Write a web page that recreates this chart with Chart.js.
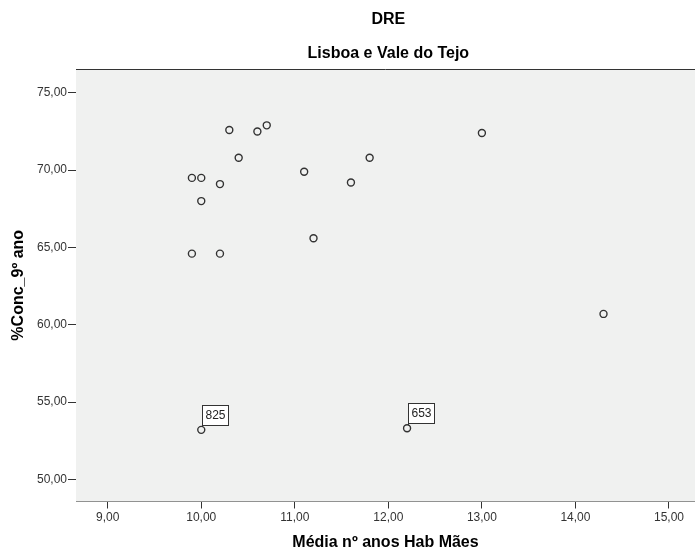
<!DOCTYPE html>
<html>
<head>
<meta charset="utf-8">
<script src="https://cdn.jsdelivr.net/npm/chart.js@4.4.1/dist/chart.umd.min.js"></script>
<style>
  body { margin: 0; background: #fff; }
  #wrap { width: 695px; height: 551px; }
</style>
</head>
<body>
<div id="wrap"><canvas id="chart1" width="695" height="551"></canvas></div>
<script>
const ctx = document.getElementById('chart1');

// valores
const mediaAnosMaes = [10.3, 10.6, 10.7, 10.4, 11.8, 11.1, 11.6, 9.9, 10.0, 10.2, 10.0, 11.2, 9.9, 10.2, 13.0, 14.3, 10.0, 12.2];
const concNono = [72.6, 72.5, 72.9, 70.8, 70.8, 69.9, 69.2, 69.5, 69.5, 69.1, 68.0, 65.6, 64.6, 64.6, 72.4, 60.7, 53.2, 53.3];
const caseLabels = ['', '', '', '', '', '', '', '', '', '', '', '', '', '', '', '', '825', '653'];
const xTicks = [9, 10, 11, 12, 13, 14, 15];
const yTicks = [50, 55, 60, 65, 70, 75];

const fmt = v => Number(v).toFixed(2).replace('.', ',');
const points = mediaAnosMaes.map((x, i) => ({ x: x, y: concNono[i] }));

const spssPlugin = {
    id: 'spss',
    beforeDatasetsDraw(chart) {
        const a = chart.chartArea;
        const c = chart.ctx;
        c.save();
        c.fillStyle = '#f0f1f0';
        c.fillRect(a.left, a.top, a.right - a.left, a.bottom - a.top);
        c.strokeStyle = '#333';
        c.lineWidth = 1;
        c.beginPath();
        c.moveTo(a.left, a.top + 0.5);
        c.lineTo(a.right, a.top + 0.5);
        c.stroke();
        c.restore();
    },
    afterDatasetsDraw(chart) {
        const c = chart.ctx;
        const meta = chart.getDatasetMeta(0);
        c.save();
        c.font = '12px "Liberation Sans", Arial, sans-serif';
        c.textAlign = 'center';
        c.textBaseline = 'middle';
        caseLabels.forEach((lab, i) => {
            if (!lab) return;
            const p = meta.data[i];
            const bx = Math.round(p.x + 1) + 0.5;
            const by = Math.round(p.y - 25) + 0.5;
            c.fillStyle = '#fff';
            c.fillRect(bx, by, 26, 20);
            c.strokeStyle = '#333';
            c.lineWidth = 1;
            c.strokeRect(bx, by, 26, 20);
            c.beginPath();
            c.moveTo(bx, by + 20);
            c.lineTo(bx, p.y - 3);
            c.stroke();
            c.fillStyle = '#222';
            c.fillText(lab, bx + 13, by + 10.5);
        });
        // títulos centrados sobre a escala
        const cx = chart.scales.x.getPixelForValue(12);
        c.font = 'bold 16px "Liberation Sans", Arial, sans-serif';
        c.fillStyle = '#000';
        c.fillText('DRE', cx, 20);
        c.fillText('Lisboa e Vale do Tejo', cx, 54);
        c.restore();
    }
};

new Chart(ctx, {
    type: 'scatter',
    data: {
        datasets: [{
            label: '%Conc_9º ano',
            data: points,
            pointRadius: 3.5,
            pointHoverRadius: 3.5,
            borderWidth: 1.4,
            borderColor: '#333',
            backgroundColor: 'rgba(0,0,0,0)'
        }]
    },
    options: {
        responsive: false,
        animation: false,
        layout: { autoPadding: false, padding: { top: 69, right: 0, bottom: 0, left: 0 } },
        plugins: {
            legend: { display: false },
            tooltip: { enabled: false }
        },
        scales: {
            x: {
                min: 8.661,
                max: 15.278,
                afterBuildTicks: s => { s.ticks = xTicks.map(v => ({ value: v })); },
                afterFit: s => { s.height = 49.5; s.paddingLeft = 0; s.paddingRight = 0; },
                grid: { drawOnChartArea: false, tickLength: 7, tickColor: '#333' },
                border: { color: '#333', width: 1 },
                ticks: {
                    callback: v => fmt(v),
                    color: '#333',
                    padding: 2,
                    maxRotation: 0,
                    font: { family: '"Liberation Sans", Arial, sans-serif', size: 12 }
                },
                title: {
                    display: true,
                    text: 'Média nº anos Hab Mães',
                    color: '#000',
                    padding: { top: 0, bottom: 0 },
                    font: { family: '"Liberation Sans", Arial, sans-serif', size: 16, weight: 'bold', lineHeight: 1 }
                }
            },
            y: {
                min: 48.565,
                max: 76.545,
                afterBuildTicks: s => { s.ticks = yTicks.map(v => ({ value: v })); },
                afterFit: s => { s.width = 76; s.paddingTop = 0; s.paddingBottom = 0; },
                grid: { drawOnChartArea: false, tickLength: 8, tickColor: '#333' },
                border: { color: '#333', width: 1 },
                ticks: {
                    callback: v => fmt(v),
                    color: '#333',
                    padding: 1,
                    font: { family: '"Liberation Sans", Arial, sans-serif', size: 12 }
                },
                title: {
                    display: true,
                    text: '%Conc_9º ano',
                    color: '#000',
                    padding: { top: 11, bottom: 0 },
                    font: { family: '"Liberation Sans", Arial, sans-serif', size: 16, weight: 'bold', lineHeight: 1 }
                }
            }
        }
    },
    plugins: [spssPlugin]
});
</script>
</body>
</html>
